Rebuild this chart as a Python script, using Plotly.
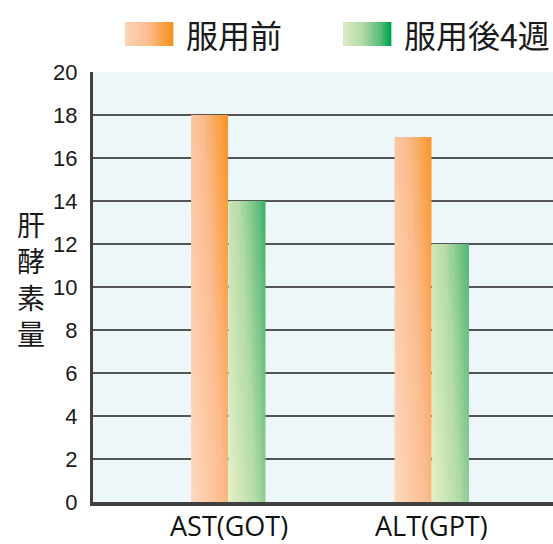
import plotly.graph_objects as go
from plotly.colors import sample_colorscale

categories = ["AST(GOT)", "ALT(GPT)"]
before_vals = [18, 17]
after_vals = [14, 12]
series_names = ["服用前", "服用後4週"]
y_ticks = [0, 2, 4, 6, 8, 10, 12, 14, 16, 18, 20]
y_title = "肝酵素量"

orange_scale = [[0.0, "#fdd9bf"], [0.55, "#fbbb8d"], [1.0, "#f7921c"]]
green_scale = [[0.0, "#e4efc7"], [0.45, "#b4dba6"], [0.8, "#5dbb7b"], [1.0, "#00a651"]]

Y_MAX = 20
BAR_W = 0.184
NSL = 16
DY = 0.25

fig = go.Figure()


def add_gradient_bar(xc_left, value, cscale):
    xs = [xc_left + (k + 0.5) * BAR_W / NSL for k in range(NSL)]
    ys = [(j + 0.5) * DY for j in range(int(Y_MAX / DY))]
    z = []
    for yc in ys:
        row = []
        for k in range(NSL):
            if yc < value:
                row.append(0.6 * k / (NSL - 1) + 0.4 * yc / Y_MAX)
            else:
                row.append(None)
        z.append(row)
    fig.add_trace(go.Heatmap(x=xs, y=ys, z=z, colorscale=cscale, zmin=0, zmax=1,
                             showscale=False, hoverinfo="skip", zsmooth=False))


for i, cat in enumerate(categories):
    add_gradient_bar(i - BAR_W, before_vals[i], orange_scale)
    add_gradient_bar(i, after_vals[i], green_scale)

shapes = []
# horizontal gridlines (except top)
for v in y_ticks[1:-1]:
    shapes.append(dict(type="line", xref="paper", yref="y", x0=0, x1=1, y0=v, y1=v,
                       line=dict(color="#555555", width=2), layer="below"))

# legend swatches with gradient
L, R, T, B = 93, 553, 72, 502


def px_x(p):
    return (p - L) / (R - L)


def px_y(p):
    return (B - p) / (B - T)


def swatch(x0p, x1p, y0p, y1p, cscale):
    n = 24
    cols = sample_colorscale(cscale, [0.1 + 0.9 * k / (n - 1) for k in range(n)])
    w = (x1p - x0p) / n
    for k in range(n):
        shapes.append(dict(type="rect", xref="paper", yref="paper",
                           x0=px_x(x0p + k * w), x1=px_x(x0p + (k + 1) * w + 0.4),
                           y0=px_y(y1p), y1=px_y(y0p),
                           fillcolor=cols[k], line=dict(width=0), layer="above"))


swatch(125, 173, 22, 46, orange_scale)
swatch(343, 391, 22, 46, green_scale)

annotations = [
    dict(text=series_names[0], xref="paper", yref="paper", x=px_x(184), y=px_y(34),
         xanchor="left", yanchor="middle", showarrow=False,
         font=dict(family="Noto Sans CJK JP", size=32, color="#1a1a1a")),
    dict(text=series_names[1], xref="paper", yref="paper", x=px_x(402), y=px_y(34),
         xanchor="left", yanchor="middle", showarrow=False,
         font=dict(family="Noto Sans CJK JP", size=32, color="#1a1a1a")),
    dict(text="<br>".join(list(y_title)), xref="paper", yref="paper", x=px_x(31),
         y=px_y(278), xanchor="center", yanchor="middle", showarrow=False,
         font=dict(family="Noto Sans CJK JP", size=28, color="#1a1a1a")),
]
# category labels placed under the axis
for i, cat in enumerate(categories):
    annotations.append(dict(text=cat, xref="x", yref="paper", x=i, y=px_y(525.5),
                            xanchor="center", yanchor="middle", showarrow=False,
                            font=dict(family="Open Sans", size=27, color="#111111")))

fig.update_layout(
    width=553, height=544,
    margin=dict(l=L, r=0, t=T, b=544 - B, pad=0, autoexpand=False),
    paper_bgcolor="white",
    plot_bgcolor="#edf6f9",
    showlegend=False,
    shapes=shapes,
    annotations=annotations,
    xaxis=dict(range=[-0.666, 1.595], showticklabels=False, showgrid=False, zeroline=False,
               showline=True, linecolor="#404040", linewidth=4, ticks="",
               automargin=False, fixedrange=True),
    yaxis=dict(range=[0, Y_MAX], tickvals=y_ticks, showgrid=False, zeroline=False,
               showline=True, linecolor="#404040", linewidth=3, ticks="",
               ticklabelstandoff=8, automargin=False,
               tickfont=dict(family="Liberation Sans", size=22, color="#1a1a1a"),
               fixedrange=True),
)

fig.write_html("out.html", config={"displayModeBar": False},
               post_script="document.body.style.margin='0';document.body.style.overflow='hidden';")
